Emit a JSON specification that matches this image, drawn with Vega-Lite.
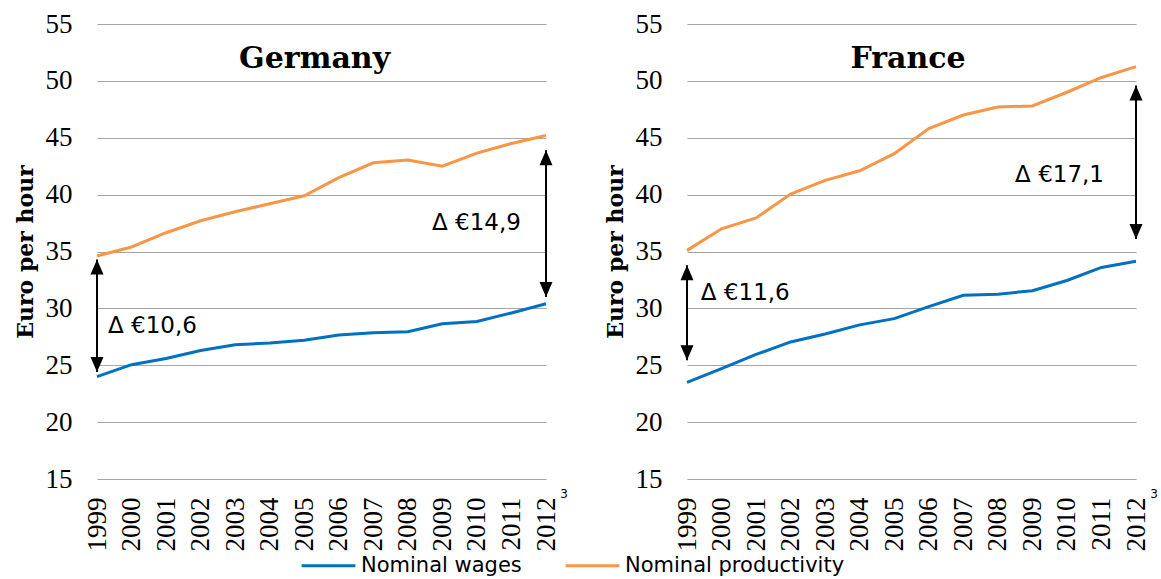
{
  "$schema": "https://vega.github.io/schema/vega-lite/v6.json",
  "background": "white",
  "padding": {"left": 14, "top": 10, "right": 0, "bottom": 0},
  "bounds": "flush",
  "spacing": 141,
  "config": {
    "view": {"stroke": null},
    "axis": {"labelColor": "black", "titleColor": "black", "labelFont": "Liberation Serif, DejaVu Serif, serif", "labelFontSize": 27, "ticks": false, "tickSize": 0, "domain": false, "labelOverlap": false, "labelFlush": false},
    "axisX": {"labelAngle": -90, "labelPadding": 18, "grid": false, "tickCount": 14, "labelFont": "Liberation Serif, DejaVu Serif, serif"},
    "axisY": {"labelFont": "Liberation Serif, DejaVu Serif, serif", "labelPadding": 25, "grid": true, "gridColor": "#A6A6A6", "gridWidth": 1.2, "tickCount": 9, "titleFont": "DejaVu Serif", "titleFontWeight": "bold", "titleFontSize": 22, "titlePadding": 8},
    "legend": {"labelFont": "DejaVu Sans"}
  },
  "datasets": {
    "series": [
      {"country": "Germany", "series": "Nominal wages", "year": 1999, "value": 24.0},
      {"country": "Germany", "series": "Nominal wages", "year": 2000, "value": 25.05},
      {"country": "Germany", "series": "Nominal wages", "year": 2001, "value": 25.6},
      {"country": "Germany", "series": "Nominal wages", "year": 2002, "value": 26.3},
      {"country": "Germany", "series": "Nominal wages", "year": 2003, "value": 26.8},
      {"country": "Germany", "series": "Nominal wages", "year": 2004, "value": 26.95},
      {"country": "Germany", "series": "Nominal wages", "year": 2005, "value": 27.2},
      {"country": "Germany", "series": "Nominal wages", "year": 2006, "value": 27.65},
      {"country": "Germany", "series": "Nominal wages", "year": 2007, "value": 27.85},
      {"country": "Germany", "series": "Nominal wages", "year": 2008, "value": 27.95},
      {"country": "Germany", "series": "Nominal wages", "year": 2009, "value": 28.65},
      {"country": "Germany", "series": "Nominal wages", "year": 2010, "value": 28.85},
      {"country": "Germany", "series": "Nominal wages", "year": 2011, "value": 29.6},
      {"country": "Germany", "series": "Nominal wages", "year": 2012, "value": 30.4},
      {"country": "Germany", "series": "Nominal productivity", "year": 1999, "value": 34.6},
      {"country": "Germany", "series": "Nominal productivity", "year": 2000, "value": 35.4},
      {"country": "Germany", "series": "Nominal productivity", "year": 2001, "value": 36.65},
      {"country": "Germany", "series": "Nominal productivity", "year": 2002, "value": 37.7},
      {"country": "Germany", "series": "Nominal productivity", "year": 2003, "value": 38.5},
      {"country": "Germany", "series": "Nominal productivity", "year": 2004, "value": 39.2},
      {"country": "Germany", "series": "Nominal productivity", "year": 2005, "value": 39.9},
      {"country": "Germany", "series": "Nominal productivity", "year": 2006, "value": 41.5},
      {"country": "Germany", "series": "Nominal productivity", "year": 2007, "value": 42.8},
      {"country": "Germany", "series": "Nominal productivity", "year": 2008, "value": 43.05},
      {"country": "Germany", "series": "Nominal productivity", "year": 2009, "value": 42.5},
      {"country": "Germany", "series": "Nominal productivity", "year": 2010, "value": 43.65},
      {"country": "Germany", "series": "Nominal productivity", "year": 2011, "value": 44.5},
      {"country": "Germany", "series": "Nominal productivity", "year": 2012, "value": 45.2},
      {"country": "France", "series": "Nominal wages", "year": 1999, "value": 23.5},
      {"country": "France", "series": "Nominal wages", "year": 2000, "value": 24.7},
      {"country": "France", "series": "Nominal wages", "year": 2001, "value": 25.95},
      {"country": "France", "series": "Nominal wages", "year": 2002, "value": 27.05},
      {"country": "France", "series": "Nominal wages", "year": 2003, "value": 27.75},
      {"country": "France", "series": "Nominal wages", "year": 2004, "value": 28.55},
      {"country": "France", "series": "Nominal wages", "year": 2005, "value": 29.1},
      {"country": "France", "series": "Nominal wages", "year": 2006, "value": 30.15},
      {"country": "France", "series": "Nominal wages", "year": 2007, "value": 31.15},
      {"country": "France", "series": "Nominal wages", "year": 2008, "value": 31.25},
      {"country": "France", "series": "Nominal wages", "year": 2009, "value": 31.55},
      {"country": "France", "series": "Nominal wages", "year": 2010, "value": 32.45},
      {"country": "France", "series": "Nominal wages", "year": 2011, "value": 33.6},
      {"country": "France", "series": "Nominal wages", "year": 2012, "value": 34.15},
      {"country": "France", "series": "Nominal productivity", "year": 1999, "value": 35.1},
      {"country": "France", "series": "Nominal productivity", "year": 2000, "value": 37.0},
      {"country": "France", "series": "Nominal productivity", "year": 2001, "value": 37.95},
      {"country": "France", "series": "Nominal productivity", "year": 2002, "value": 40.05},
      {"country": "France", "series": "Nominal productivity", "year": 2003, "value": 41.25},
      {"country": "France", "series": "Nominal productivity", "year": 2004, "value": 42.1},
      {"country": "France", "series": "Nominal productivity", "year": 2005, "value": 43.6},
      {"country": "France", "series": "Nominal productivity", "year": 2006, "value": 45.8},
      {"country": "France", "series": "Nominal productivity", "year": 2007, "value": 47.0},
      {"country": "France", "series": "Nominal productivity", "year": 2008, "value": 47.7},
      {"country": "France", "series": "Nominal productivity", "year": 2009, "value": 47.8},
      {"country": "France", "series": "Nominal productivity", "year": 2010, "value": 49.0},
      {"country": "France", "series": "Nominal productivity", "year": 2011, "value": 50.3},
      {"country": "France", "series": "Nominal productivity", "year": 2012, "value": 51.25}
    ],
    "arrows": [
      {"country": "Germany", "year": 1999, "top": 34.3, "bottom": 24.4},
      {"country": "Germany", "year": 2012, "top": 43.9, "bottom": 31.0},
      {"country": "France", "year": 1999, "top": 33.8, "bottom": 25.45},
      {"country": "France", "year": 2012, "top": 49.6, "bottom": 36.1}
    ],
    "heads": [
      {"country": "Germany", "year": 1999, "y": 34.3, "dir": "up"},
      {"country": "Germany", "year": 1999, "y": 24.4, "dir": "down"},
      {"country": "Germany", "year": 2012, "y": 43.9, "dir": "up"},
      {"country": "Germany", "year": 2012, "y": 31.0, "dir": "down"},
      {"country": "France", "year": 1999, "y": 33.8, "dir": "up"},
      {"country": "France", "year": 1999, "y": 25.45, "dir": "down"},
      {"country": "France", "year": 2012, "y": 49.6, "dir": "up"},
      {"country": "France", "year": 2012, "y": 36.1, "dir": "down"}
    ],
    "labels": [
      {"country": "Germany", "year": 1999.32, "y": 27.8, "text": "Δ €10,6"},
      {"country": "Germany", "year": 2008.7, "y": 36.85, "text": "Δ €14,9"},
      {"country": "France", "year": 1999.4, "y": 30.7, "text": "Δ €11,6"},
      {"country": "France", "year": 2008.5, "y": 41.07, "text": "Δ €17,1"}
    ],
    "titles": [
      {"country": "Germany", "year": 2005.3, "y": 51.15, "text": "Germany"},
      {"country": "France", "year": 2005.4, "y": 51.15, "text": "France"}
    ],
    "notes": [
      {"country": "Germany", "year": 2012, "y": 15, "text": "3"},
      {"country": "France", "year": 2012, "y": 15, "text": "3"}
    ]
  },
  "hconcat": [
    {
      "width": 449,
      "height": 455,
      "encoding": {
        "x": {"field": "year", "type": "quantitative", "scale": {"domain": [1999, 2012], "nice": false, "zero": false}, "axis": {"format": "d", "title": null, "values": [1999,2000,2001,2002,2003,2004,2005,2006,2007,2008,2009,2010,2011,2012]}}
      },
      "layer": [
        {
          "data": {"name": "series"},
          "transform": [{"filter": "datum.country === 'Germany'"}],
          "mark": {"type": "line", "strokeWidth": 3},
          "encoding": {
            "y": {"field": "value", "type": "quantitative", "scale": {"domain": [15, 55], "nice": false, "zero": false}, "axis": {"title": "Euro per hour", "values": [15,20,25,30,35,40,45,50,55]}},
            "color": {"field": "series", "type": "nominal", "scale": {"domain": ["Nominal wages", "Nominal productivity"], "range": ["#0070C0", "#F79646"]},
              "legend": {"orient": "none", "legendX": 203, "legendY": 513, "direction": "horizontal", "title": null, "symbolType": "stroke", "symbolStrokeWidth": 3, "symbolSize": 2900, "labelFont": "DejaVu Sans", "labelFontSize": 21, "labelColor": "black", "labelOffset": 4, "columnPadding": 37, "labelLimit": 400}}
          }
        },
        {
          "data": {"name": "arrows"},
          "transform": [{"filter": "datum.country === 'Germany'"}],
          "mark": {"type": "rule", "color": "black", "strokeWidth": 2},
          "encoding": {"y": {"field": "top", "type": "quantitative", "axis": {"title": "Euro per hour"}}, "y2": {"field": "bottom"}}
        },
        {
          "data": {"name": "heads"},
          "transform": [{"filter": "datum.country === 'Germany'"}],
          "mark": {"type": "point", "filled": true, "color": "black", "opacity": 1, "size": 400, "strokeWidth": 0},
          "encoding": {"y": {"field": "y", "type": "quantitative", "axis": {"title": "Euro per hour"}},
            "shape": {"field": "dir", "type": "nominal", "scale": {"domain": ["up", "down"], "range": ["M0,0L0.65,1.5L-0.65,1.5Z", "M0,0L0.65,-1.5L-0.65,-1.5Z"]}, "legend": null}}
        },
        {
          "data": {"name": "labels"},
          "transform": [{"filter": "datum.country === 'Germany'"}],
          "mark": {"type": "text", "align": "left", "baseline": "alphabetic", "font": "DejaVu Sans", "fontSize": 23, "color": "black"},
          "encoding": {"y": {"field": "y", "type": "quantitative", "axis": {"title": "Euro per hour"}}, "text": {"field": "text"}}
        },
        {
          "data": {"name": "titles"},
          "transform": [{"filter": "datum.country === 'Germany'"}],
          "mark": {"type": "text", "align": "center", "baseline": "alphabetic", "font": "DejaVu Serif", "fontWeight": "bold", "fontSize": 30, "color": "black"},
          "encoding": {"y": {"field": "y", "type": "quantitative", "axis": {"title": "Euro per hour"}}, "text": {"field": "text"}}
        },
        {
          "data": {"name": "notes"},
          "transform": [{"filter": "datum.country === 'Germany'"}],
          "mark": {"type": "text", "align": "center", "baseline": "middle", "font": "DejaVu Sans", "fontSize": 12, "color": "black", "dx": 18, "dy": 15},
          "encoding": {"y": {"field": "y", "type": "quantitative", "axis": {"title": "Euro per hour"}}, "text": {"field": "text"}}
        }
      ]
    },
    {
      "width": 449,
      "height": 455,
      "encoding": {
        "x": {"field": "year", "type": "quantitative", "scale": {"domain": [1999, 2012], "nice": false, "zero": false}, "axis": {"format": "d", "title": null, "values": [1999,2000,2001,2002,2003,2004,2005,2006,2007,2008,2009,2010,2011,2012]}}
      },
      "layer": [
        {
          "data": {"name": "series"},
          "transform": [{"filter": "datum.country === 'France'"}],
          "mark": {"type": "line", "strokeWidth": 3},
          "encoding": {
            "y": {"field": "value", "type": "quantitative", "scale": {"domain": [15, 55], "nice": false, "zero": false}, "axis": {"title": "Euro per hour", "values": [15,20,25,30,35,40,45,50,55]}},
            "color": {"field": "series", "type": "nominal", "scale": {"domain": ["Nominal wages", "Nominal productivity"], "range": ["#0070C0", "#F79646"]},
              "legend": {"orient": "none", "legendX": 203, "legendY": 513, "direction": "horizontal", "title": null, "symbolType": "stroke", "symbolStrokeWidth": 3, "symbolSize": 2900, "labelFont": "DejaVu Sans", "labelFontSize": 21, "labelColor": "black", "labelOffset": 4, "columnPadding": 37, "labelLimit": 400}}
          }
        },
        {
          "data": {"name": "arrows"},
          "transform": [{"filter": "datum.country === 'France'"}],
          "mark": {"type": "rule", "color": "black", "strokeWidth": 2},
          "encoding": {"y": {"field": "top", "type": "quantitative", "axis": {"title": "Euro per hour"}}, "y2": {"field": "bottom"}}
        },
        {
          "data": {"name": "heads"},
          "transform": [{"filter": "datum.country === 'France'"}],
          "mark": {"type": "point", "filled": true, "color": "black", "opacity": 1, "size": 400, "strokeWidth": 0},
          "encoding": {"y": {"field": "y", "type": "quantitative", "axis": {"title": "Euro per hour"}},
            "shape": {"field": "dir", "type": "nominal", "scale": {"domain": ["up", "down"], "range": ["M0,0L0.65,1.5L-0.65,1.5Z", "M0,0L0.65,-1.5L-0.65,-1.5Z"]}, "legend": null}}
        },
        {
          "data": {"name": "labels"},
          "transform": [{"filter": "datum.country === 'France'"}],
          "mark": {"type": "text", "align": "left", "baseline": "alphabetic", "font": "DejaVu Sans", "fontSize": 23, "color": "black"},
          "encoding": {"y": {"field": "y", "type": "quantitative", "axis": {"title": "Euro per hour"}}, "text": {"field": "text"}}
        },
        {
          "data": {"name": "titles"},
          "transform": [{"filter": "datum.country === 'France'"}],
          "mark": {"type": "text", "align": "center", "baseline": "alphabetic", "font": "DejaVu Serif", "fontWeight": "bold", "fontSize": 30, "color": "black"},
          "encoding": {"y": {"field": "y", "type": "quantitative", "axis": {"title": "Euro per hour"}}, "text": {"field": "text"}}
        },
        {
          "data": {"name": "notes"},
          "transform": [{"filter": "datum.country === 'France'"}],
          "mark": {"type": "text", "align": "center", "baseline": "middle", "font": "DejaVu Sans", "fontSize": 12, "color": "black", "dx": 18, "dy": 15},
          "encoding": {"y": {"field": "y", "type": "quantitative", "axis": {"title": "Euro per hour"}}, "text": {"field": "text"}}
        }
      ]
    }
  ],
  "resolve": {"scale": {"color": "shared", "shape": "independent"}}
}
